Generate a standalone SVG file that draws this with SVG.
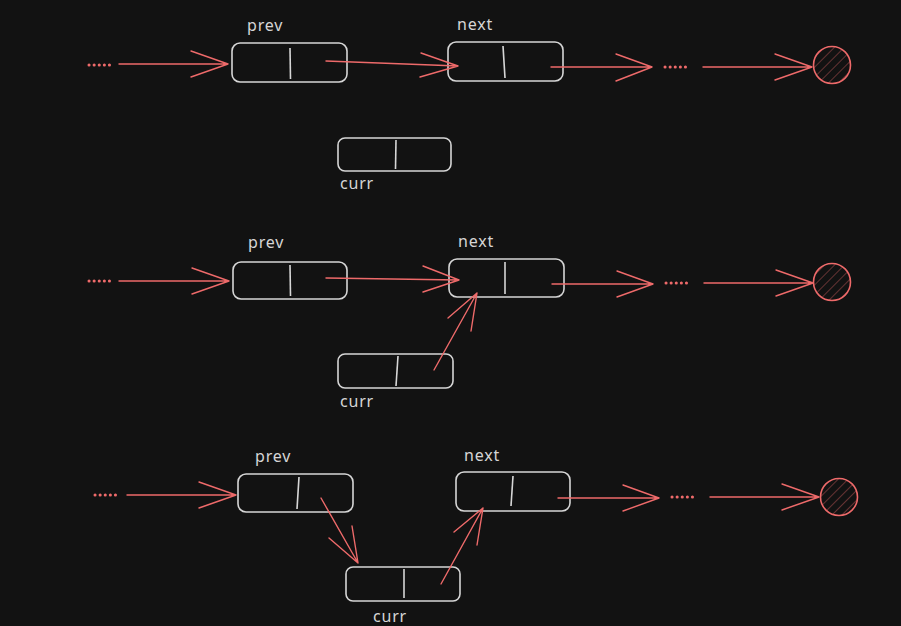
<svg xmlns="http://www.w3.org/2000/svg" width="901" height="626" viewBox="0 0 901 626">
<defs>
<pattern id="hatch" patternUnits="userSpaceOnUse" width="7" height="7" patternTransform="rotate(45)">
<line x1="0" y1="0" x2="0" y2="7" stroke="#7a3b3b" stroke-width="1.6"/>
</pattern>
<style>
.box{fill:none;stroke:#d6d6d6;stroke-width:1.6}
.div{stroke:#d6d6d6;stroke-width:1.6;fill:none}
.lbl{font-family:"Noto Sans","Liberation Sans",sans-serif;font-size:16px;fill:#d6d6d6;letter-spacing:0.8px}
.ar{stroke:#ee6a6a;stroke-width:1.4;fill:none;stroke-linecap:round;stroke-linejoin:round}
.dots{stroke:#ee6a6a;stroke-width:3;stroke-dasharray:0.1 5;stroke-linecap:round;fill:none}
.end{fill:url(#hatch);stroke:#ee6a6a;stroke-width:1.6}
</style>
</defs>
<rect width="901" height="626" fill="#121212"/>

<!-- Row 1 nodes -->
<g id="prev1"><rect class="box" x="232" y="43" width="115" height="39" rx="8"/><path class="div" d="M290 48 L290.5 79"/><text class="lbl" x="247" y="31">prev</text></g>
<g id="next1"><rect class="box" x="448" y="42" width="115" height="39" rx="8"/><path class="div" d="M503 46 L505 78"/><text class="lbl" x="457" y="30">next</text></g>
<g id="curr1"><rect class="box" x="338" y="138" width="113" height="33" rx="7"/><path class="div" d="M396 140 L395.5 169"/><text class="lbl" x="340" y="189">curr</text></g>
<g id="end1"><circle class="end" cx="832" cy="65" r="18.5"/></g>

<!-- Row 2 nodes -->
<g id="prev2"><rect class="box" x="233" y="262" width="114" height="37" rx="8"/><path class="div" d="M290 265 L290.5 296"/><text class="lbl" x="248" y="248">prev</text></g>
<g id="next2"><rect class="box" x="449" y="259" width="115" height="38" rx="8"/><path class="div" d="M505 262 L505 294"/><text class="lbl" x="458" y="247">next</text></g>
<g id="curr2"><rect class="box" x="338" y="354" width="115" height="34" rx="7"/><path class="div" d="M398 356 L396 386"/><text class="lbl" x="340" y="407">curr</text></g>
<g id="end2"><circle class="end" cx="832" cy="282" r="18.5"/></g>

<!-- Row 3 nodes -->
<g id="prev3"><rect class="box" x="238" y="474" width="115" height="38" rx="8"/><path class="div" d="M299 477 L297 509"/><text class="lbl" x="255" y="462">prev</text></g>
<g id="next3"><rect class="box" x="456" y="472" width="114" height="39" rx="8"/><path class="div" d="M513 476 L511 506"/><text class="lbl" x="464" y="461">next</text></g>
<g id="curr3"><rect class="box" x="346" y="567" width="114" height="34" rx="7"/><path class="div" d="M404 569 L404 598"/><text class="lbl" x="373" y="622">curr</text></g>
<g id="end3"><circle class="end" cx="839" cy="497" r="18.5"/></g>

<g id="connectors">
<!-- Row 1 -->
<path class="dots" d="M89 65 L113 65"/>
<path class="ar" d="M119 64 L228 64 M191 51 L228 64 L191 77"/>
<path class="ar" d="M326 61 L458 66 M421 53 L458 66 L420 77"/>
<path class="ar" d="M551 67 L652 67 M616 54 L652 67 L616 81"/>
<path class="dots" d="M665 67 L689 67"/>
<path class="ar" d="M703 67 L812 67 M775 54 L812 67 L775 80"/>
<!-- Row 2 -->
<path class="dots" d="M89 281 L113 281"/>
<path class="ar" d="M119 281 L229 281 M192 268 L229 281 L192 294"/>
<path class="ar" d="M326 278 L459 280 M423 266 L459 280 L423 292"/>
<path class="ar" d="M434 370 L477 293 M448 318 L477 293 L471 331"/>
<path class="ar" d="M552 284 L653 284 M617 271 L653 284 L617 297"/>
<path class="dots" d="M666 283 L690 283"/>
<path class="ar" d="M704 283 L813 283 M776 270 L813 283 L776 296"/>
<!-- Row 3 -->
<path class="dots" d="M95 495 L119 495"/>
<path class="ar" d="M127 495 L236 495 M199 482 L236 495 L199 508"/>
<path class="ar" d="M321 498 L358 563 M329 538 L358 563 L352 526"/>
<path class="ar" d="M441 584 L483 508 M454 532 L483 508 L477 545"/>
<path class="ar" d="M558 498 L659 498 M623 485 L659 498 L623 511"/>
<path class="dots" d="M672 497 L697 497"/>
<path class="ar" d="M710 497 L819 497 M782 484 L819 497 L782 510"/>
</g>
</svg>
